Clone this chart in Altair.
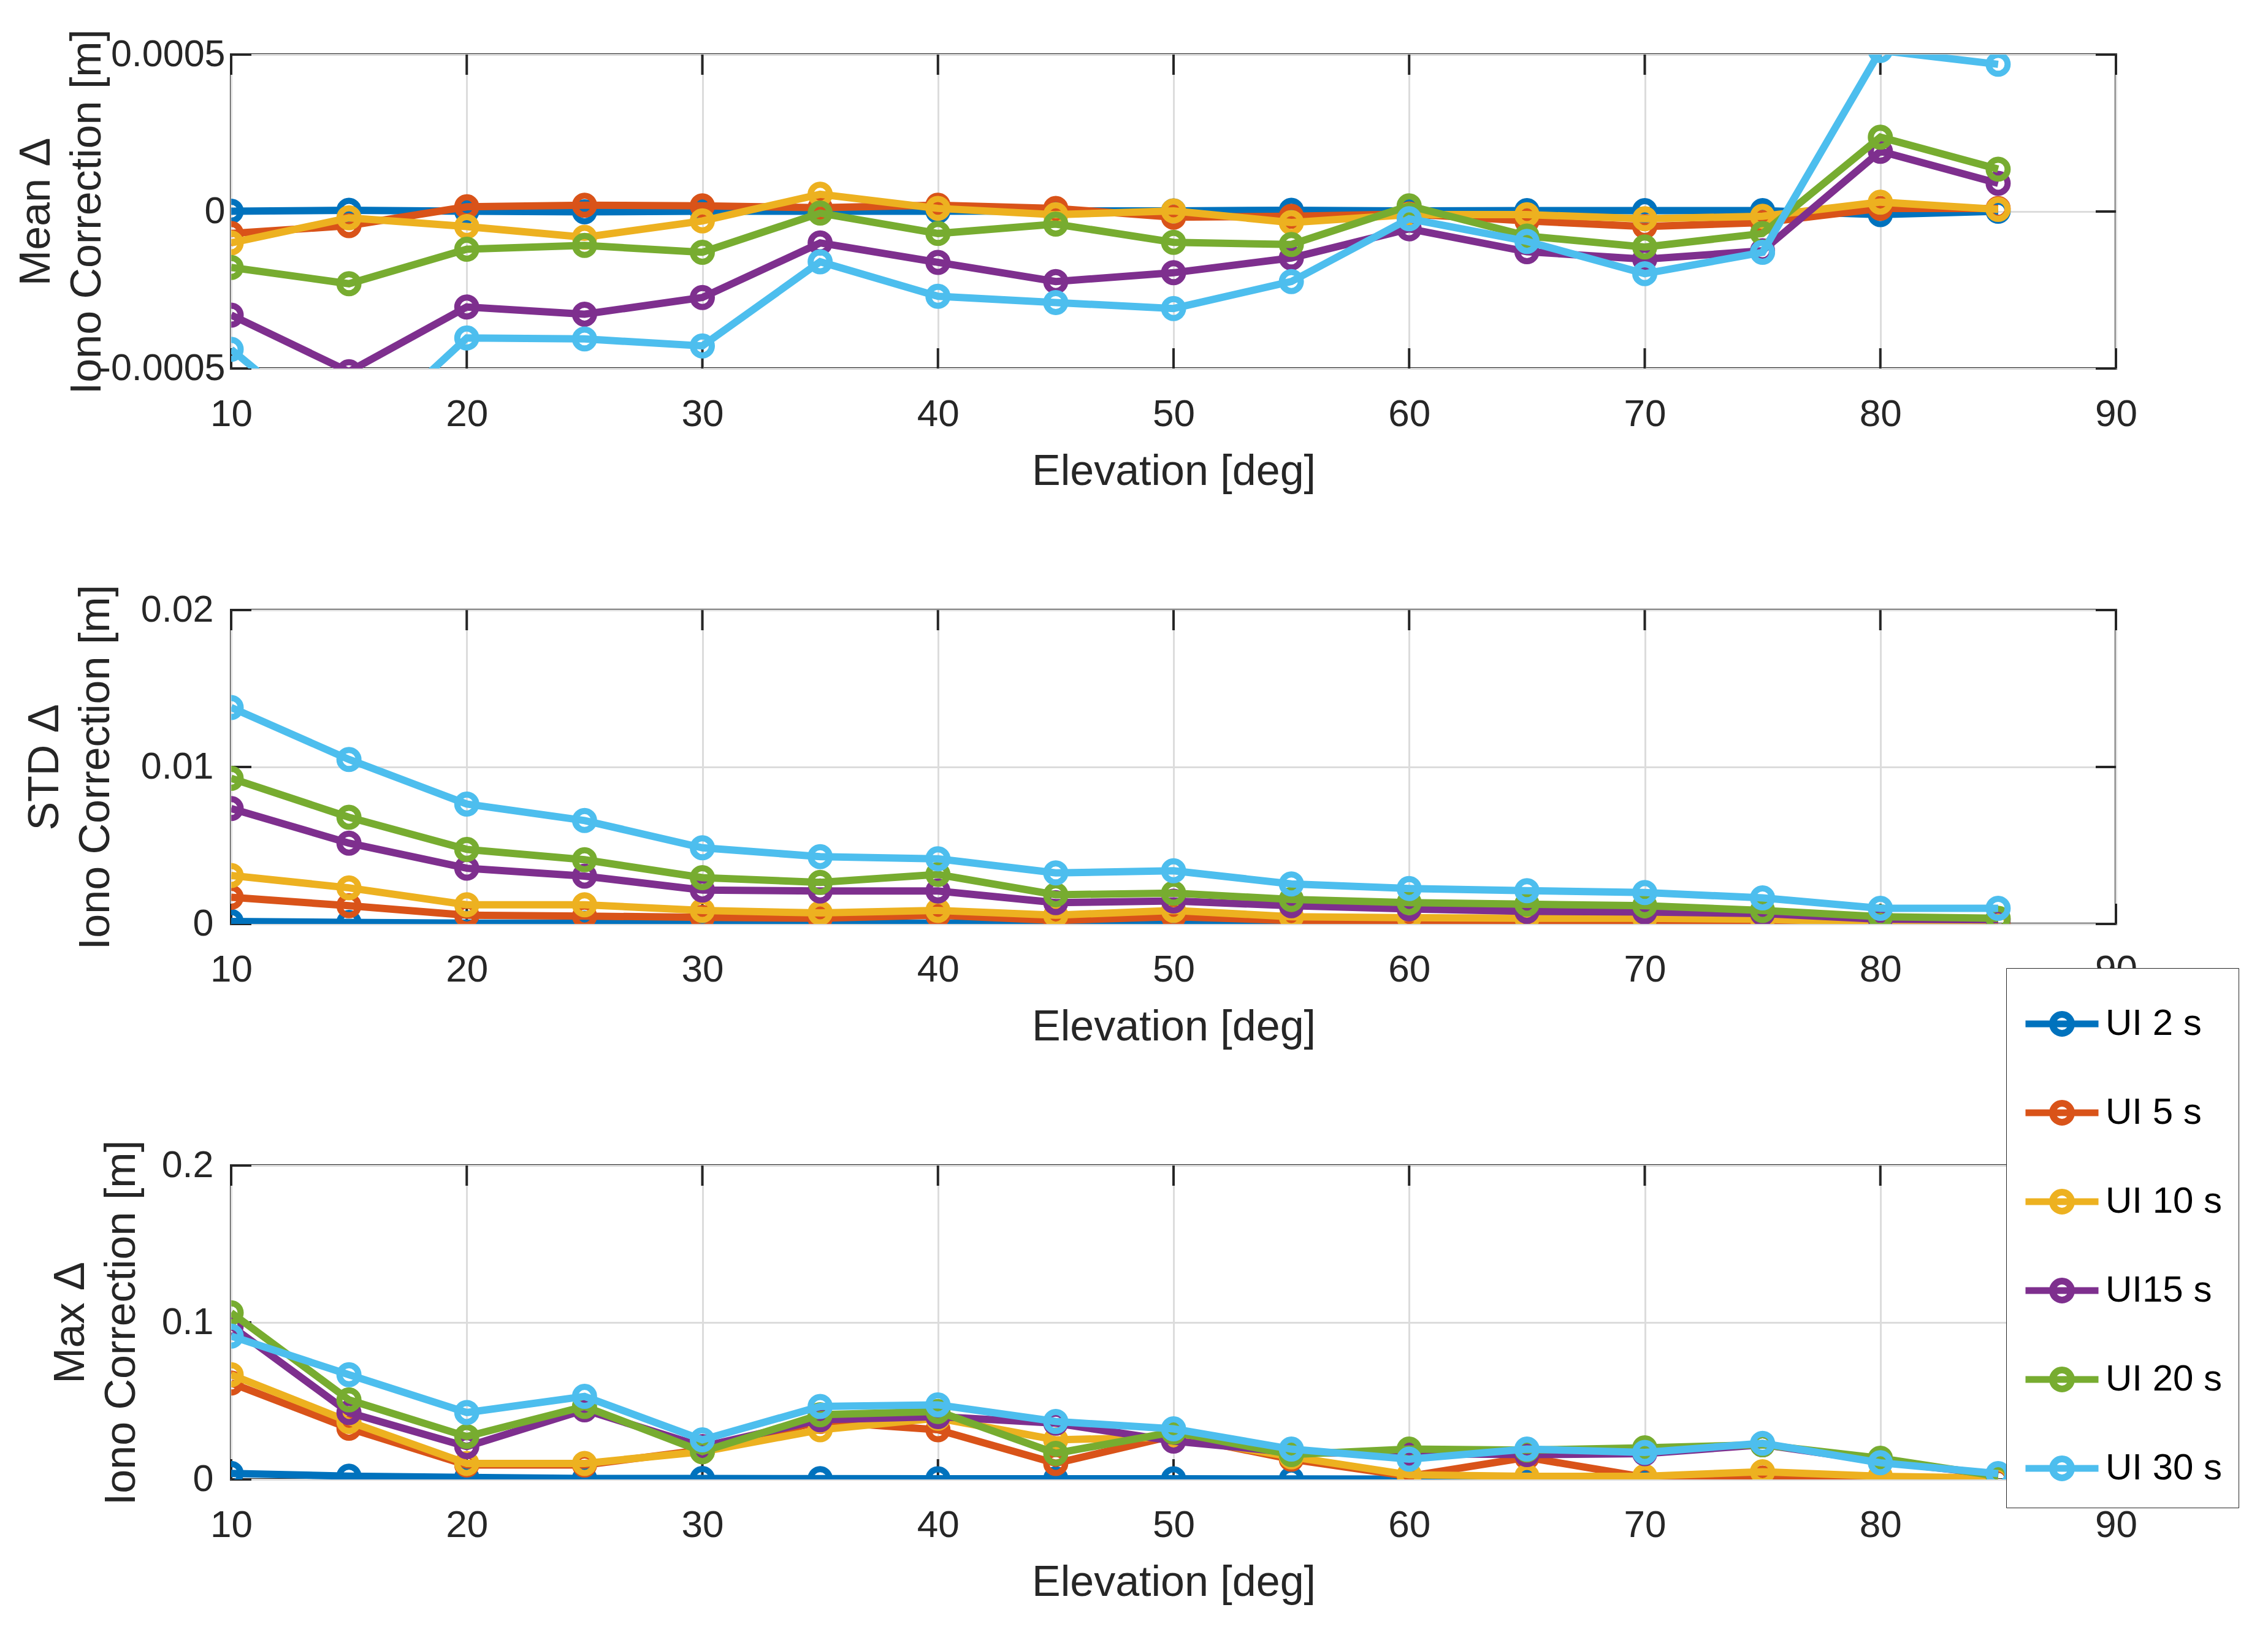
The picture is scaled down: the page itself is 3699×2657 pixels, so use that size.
import altair as alt
import pandas as pd

elev = [10, 15, 20, 25, 30, 35, 40, 45, 50, 55, 60, 65, 70, 75, 80, 85]
series = ["UI 2 s", "UI 5 s", "UI 10 s", "UI15 s", "UI 20 s", "UI 30 s"]
colors = ["#0072BD", "#D95319", "#EDB120", "#7E2F8E", "#77AC30", "#4DBEEE"]
x_ticks = [10, 20, 30, 40, 50, 60, 70, 80, 90]

mean_ui2 = [0.000001, 0.000004, 0.000001, -0.000001, 0.000001, 0.000001, 0.000001, 0.000002,
            0.000002, 0.000004, 0.000002, 0.000003, 0.000003, 0.000003, -0.00001, 0.000001]
mean_ui5 = [-0.00007, -0.000045, 0.000015, 0.00002, 0.000018, 0.000012, 0.00002, 0.00001,
            -0.000018, -0.000015, -0.000008, -0.00003, -0.000048, -0.000035, 0.00001, 0.00001]
mean_ui10 = [-0.0001, -0.00002, -0.000048, -0.000082, -0.00003, 0.000055, 0.00001, -0.00001,
             0.000002, -0.000035, -0.00001, -0.00001, -0.000023, -0.000015, 0.00003, 0.000007]
mean_ui15 = [-0.00033, -0.00051, -0.000304, -0.000327, -0.000274, -0.0001, -0.000162, -0.000223,
             -0.000195, -0.000148, -0.000055, -0.000128, -0.000152, -0.000125, 0.000192, 0.00009]
mean_ui20 = [-0.000178, -0.00023, -0.00012, -0.000108, -0.00013, -0.000005, -0.00007, -0.00004,
             -0.000098, -0.000105, 0.000018, -0.000078, -0.000113, -0.00007, 0.000237, 0.000135]
mean_ui30 = [-0.000439, -0.00075, -0.000403, -0.000406, -0.000428, -0.00016, -0.00027, -0.00029,
             -0.000309, -0.000223, -0.000023, -0.000095, -0.000198, -0.00013, 0.000513, 0.000469]

std_ui2 = [0.00016, 0.0001, 0.00005, 0.00005, 0.00005, 0.00005, 0.00005, 0.00005,
           0.00005, 0.00005, 0.00004, 0.00004, 0.00004, 0.00004, 0.00003, 0.00003]
std_ui5 = [0.0017, 0.00116, 0.00056, 0.0005, 0.00042, 0.00036, 0.00056, 0.00022,
           0.00046, 0.00022, 0.00016, 0.00012, 0.00012, 0.0001, 0.00006, 0.00002]
std_ui10 = [0.00309, 0.0023, 0.00122, 0.00122, 0.00086, 0.0007, 0.00086, 0.00056,
            0.00086, 0.00046, 0.0004, 0.00036, 0.00036, 0.0003, 0.0001, 0.00001]
std_ui15 = [0.00735, 0.00515, 0.00355, 0.00305, 0.00216, 0.0021, 0.0021, 0.00136,
            0.00146, 0.00116, 0.00096, 0.0008, 0.00076, 0.00066, 0.0003, 0.00026]
std_ui20 = [0.00928, 0.0068, 0.00475, 0.00409, 0.00295, 0.00265, 0.00315, 0.00186,
            0.00196, 0.00156, 0.00136, 0.00126, 0.00116, 0.00086, 0.00046, 0.00036]
std_ui30 = [0.01379, 0.01048, 0.00764, 0.00659, 0.00485, 0.00429, 0.00415, 0.00325,
            0.00339, 0.00255, 0.00226, 0.00212, 0.002, 0.00166, 0.001, 0.001]

max_ui2 = [0.0038, 0.0021, 0.0013, 0.0006, 0.0006, 0.0005, 0.0004, 0.0004,
           0.0004, 0.0003, 0.0002, 0.0002, 0.0002, 0.0002, 0.0002, 0.0001]
max_ui5 = [0.0614, 0.0326, 0.0092, 0.0092, 0.0188, 0.0369, 0.0316, 0.0102,
           0.0279, 0.0129, 0.002, 0.0140, 0.0014, 0.0009, 0.0003, 0.0002]
max_ui10 = [0.0667, 0.0369, 0.0102, 0.0102, 0.0177, 0.0316, 0.039, 0.0252,
            0.027, 0.0144, 0.0029, 0.002, 0.002, 0.0049, 0.002, 0.0009]
max_ui15 = [0.0977, 0.0426, 0.0209, 0.0443, 0.0209, 0.038, 0.04, 0.0358,
            0.0244, 0.0172, 0.0164, 0.0158, 0.0164, 0.0221, 0.0115, 0.0029]
max_ui20 = [0.1062, 0.0507, 0.0273, 0.0465, 0.0177, 0.0412, 0.0433, 0.0166,
            0.0302, 0.0158, 0.0193, 0.0187, 0.0201, 0.0221, 0.0135, 0.002]
max_ui30 = [0.0913, 0.0667, 0.0426, 0.0529, 0.0252, 0.0465, 0.0475, 0.0369,
            0.0322, 0.0193, 0.0129, 0.0193, 0.0172, 0.023, 0.0106, 0.0037]

mean_ticks = [-0.0005, 0, 0.0005]
std_ticks = [0, 0.01, 0.02]
max_ticks = [0, 0.1, 0.2]

FONT = "Liberation Sans"
INK = "#262626"
GRID = "#dcdcdc"
W, H = 3074, 512
TICK = 33


def long_df(cols):
    rows = []
    for name, vals in zip(series, cols):
        for e, v in zip(elev, vals):
            rows.append({"elev": e, "val": v, "series": name})
    return pd.DataFrame(rows)


legend = alt.Legend(
    title=None, orient="none", legendX=2895, legendY=1490,
    symbolType="M-1,0H1M0.26,0A0.26,0.26,0,1,1,-0.26,0A0.26,0.26,0,1,1,0.26,0",
    symbolSize=14161, symbolStrokeWidth=11, symbolFillColor="transparent",
    labelFont=FONT, labelFontSize=60, labelColor="black", labelOffset=6,
    rowPadding=42, padding=26, strokeColor=INK, fillColor="white",
    labelLimit=400,
)


def panel(cols, yticks, title_lines, title_x, label_pad):
    df = long_df(cols)
    xs = alt.X("elev:Q", scale=alt.Scale(domain=[10, 90], nice=False, zero=False),
               axis=alt.Axis(values=x_ticks, title="Elevation [deg]", ticks=False, domain=False,
                             grid=True, gridColor=GRID, gridWidth=3, labelFlush=False,
                             labelFont=FONT, labelFontSize=62, labelColor=INK, labelPadding=44,
                             titleFont=FONT, titleFontSize=70, titleFontWeight="normal",
                             titleColor=INK, titleBaseline="top", titleY=134))
    ys = alt.Y("val:Q", scale=alt.Scale(domain=[yticks[0], yticks[-1]], nice=False, zero=False),
               axis=alt.Axis(values=yticks, title=title_lines, ticks=False, domain=False,
                             grid=True, gridColor=GRID, gridWidth=3, labelFlush=False,
                             labelExpr="toString(datum.value)", labelLimit=500,
                             labelFont=FONT, labelFontSize=61, labelColor=INK,
                             labelPadding=label_pad,
                             titleFont=FONT, titleFontSize=70, titleFontWeight="normal",
                             titleColor=INK, titleBaseline="top", titleAngle=270,
                             titleX=title_x, titleY=H / 2, titleAlign="center",
                             titleLineHeight=83))
    col = alt.Color("series:N", scale=alt.Scale(domain=series, range=colors), legend=legend)

    xt = pd.DataFrame({"elev": x_ticks})
    yt = pd.DataFrame({"val": yticks})
    layers = [
        alt.Chart(xt).mark_rule(color=INK, strokeWidth=4).encode(x=xs, y=alt.value(0), y2=alt.value(TICK)),
        alt.Chart(xt).mark_rule(color=INK, strokeWidth=4).encode(x=xs, y=alt.value(H), y2=alt.value(H - TICK)),
        alt.Chart(yt).mark_rule(color=INK, strokeWidth=4).encode(y=ys, x=alt.value(0), x2=alt.value(TICK)),
        alt.Chart(yt).mark_rule(color=INK, strokeWidth=4).encode(y=ys, x=alt.value(W), x2=alt.value(W - TICK)),
    ]
    for s in series:
        base = alt.Chart(df).transform_filter(alt.datum.series == s)
        layers.append(base.mark_line(strokeWidth=12, clip=True).encode(x=xs, y=ys, color=col))
        layers.append(base.mark_point(shape="circle", filled=False, size=960, strokeWidth=10,
                                      opacity=1, clip=True).encode(x=xs, y=ys, color=col))
    return alt.layer(*layers).properties(width=W, height=H)


p1 = panel([mean_ui2, mean_ui5, mean_ui10, mean_ui15, mean_ui20, mean_ui30],
           mean_ticks, ["Mean Δ", "Iono Correction [m]"], -352, 10)
p2 = panel([std_ui2, std_ui5, std_ui10, std_ui15, std_ui20, std_ui30],
           std_ticks, ["STD Δ", "Iono Correction [m]"], -338, 29)
p3 = panel([max_ui2, max_ui5, max_ui10, max_ui15, max_ui20, max_ui30],
           max_ticks, ["Max Δ", "Iono Correction [m]"], -296, 29)

chart = alt.vconcat(p1, p2, p3, spacing=394, bounds="flush").properties(
    padding={"left": 14, "top": 37, "right": 10, "bottom": 10},
    background="white",
).configure_view(stroke=INK, strokeWidth=4).configure_concat(spacing=394)

chart.save("out.html", embed_options={"renderer": "svg", "actions": False})
